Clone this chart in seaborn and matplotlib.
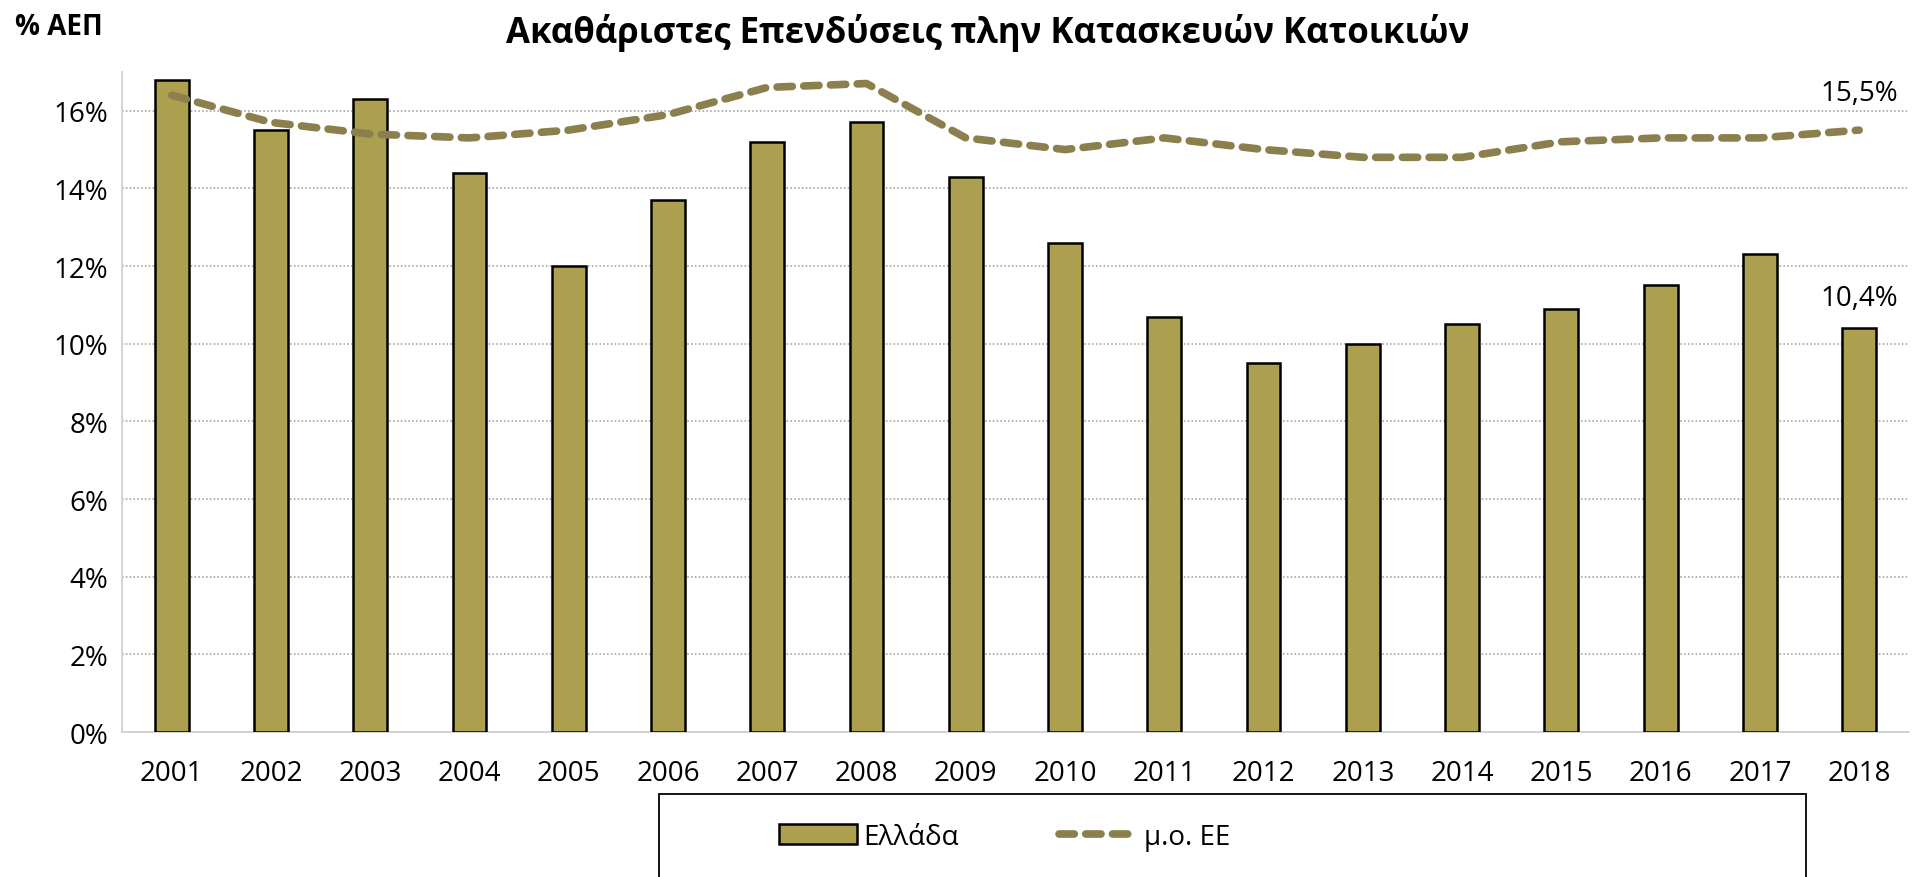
import numpy as np
import pandas as pd
import matplotlib
matplotlib.use("Agg")
import matplotlib.pyplot as plt
from matplotlib.patches import Rectangle, Patch
from matplotlib.lines import Line2D
from matplotlib.ticker import FuncFormatter
import seaborn as sns

# --- data ---
years = ["2001", "2002", "2003", "2004", "2005", "2006", "2007", "2008", "2009",
         "2010", "2011", "2012", "2013", "2014", "2015", "2016", "2017", "2018"]
greece = [16.8, 15.5, 16.3, 14.4, 12.0, 13.7, 15.2, 15.7, 14.3,
          12.6, 10.7, 9.5, 10.0, 10.5, 10.9, 11.5, 12.3, 10.4]
eu_avg = [16.4, 15.7, 15.4, 15.3, 15.5, 15.9, 16.6, 16.7, 15.3,
          15.0, 15.3, 15.0, 14.8, 14.8, 15.2, 15.3, 15.3, 15.5]
yticks = [0, 2, 4, 6, 8, 10, 12, 14, 16]

bar_color = "#AC9F50"
line_color = "#8B7F4E"

sns.set_style("white")
plt.rcParams["font.family"] = ["Open Sans", "DejaVu Sans"]
plt.rcParams["text.color"] = "black"

df = pd.DataFrame({"year": years, "Ελλάδα": greece, "eu": eu_avg})

fig = plt.figure(figsize=(19.13, 8.78), dpi=100)
ax = fig.add_axes([0.0638, 0.165, 0.934, 0.752])

sns.barplot(data=df, x="year", y="Ελλάδα", color=bar_color, width=0.34,
            edgecolor="black", linewidth=1.8, saturation=1, ax=ax, zorder=3)
sns.lineplot(x=np.arange(len(years)), y=eu_avg, color=line_color, lw=5.5,
             ax=ax, zorder=4)
line = ax.lines[-1]
line.set_linestyle((0, (2.0, 1.5)))
line.set_dash_capstyle("round")

ax.set_ylim(0, 17)
ax.set_xlim(-0.5, len(years) - 0.5)
ax.set_yticks(yticks)
ax.yaxis.set_major_formatter(FuncFormatter(lambda v, p: f"{v:.0f}%"))
ax.grid(axis="y", linestyle=(0, (1, 1.5)), color="#9a9a9a", lw=1.1, zorder=0)
ax.set_xlabel("")
ax.set_ylabel("")
ax.tick_params(axis="both", labelsize=20, length=0, colors="black")
ax.tick_params(axis="x", pad=19)
ax.tick_params(axis="y", pad=10)
for s in ["top", "right"]:
    ax.spines[s].set_visible(False)
for s in ["left", "bottom"]:
    ax.spines[s].set_color("#d0d0d0")
    ax.spines[s].set_linewidth(1.3)

# end-value labels
ax.annotate("15,5%", (len(years) - 1, eu_avg[-1]), xytext=(0, 27),
            textcoords="offset points", ha="center", va="center", fontsize=20)
ax.annotate("10,4%", (len(years) - 1, greece[-1]), xytext=(0, 22),
            textcoords="offset points", ha="center", va="center", fontsize=20)

fig.text(0.5165, 0.962, "Ακαθάριστες Επενδύσεις πλην Κατασκευών Κατοικιών",
         ha="center", va="center", fontsize=25, fontweight="bold")
fig.text(0.008, 0.969, "% ΑΕΠ", ha="left", va="center", fontsize=20,
         fontweight="bold")

# legend with its box running off the bottom edge
fig.patches.append(Rectangle((0.3445, -0.05), 0.5996, 0.1445, transform=fig.transFigure,
                             facecolor="white", edgecolor="black", lw=1.3, zorder=1))
handles = [Patch(facecolor=bar_color, edgecolor="black", lw=1.8),
           Line2D([0], [0], color=line_color, lw=5.5, linestyle=(0, (2.0, 1.5)),
                  dash_capstyle="round")]
fig.legend(handles, ["Ελλάδα", "μ.ο. ΕΕ"], loc="center", bbox_to_anchor=(0.525, 0.046),
           ncol=2, frameon=False, fontsize=20, handlelength=2.8, handletextpad=0.25,
           columnspacing=3.6)

fig.savefig("out.png", dpi=100)
